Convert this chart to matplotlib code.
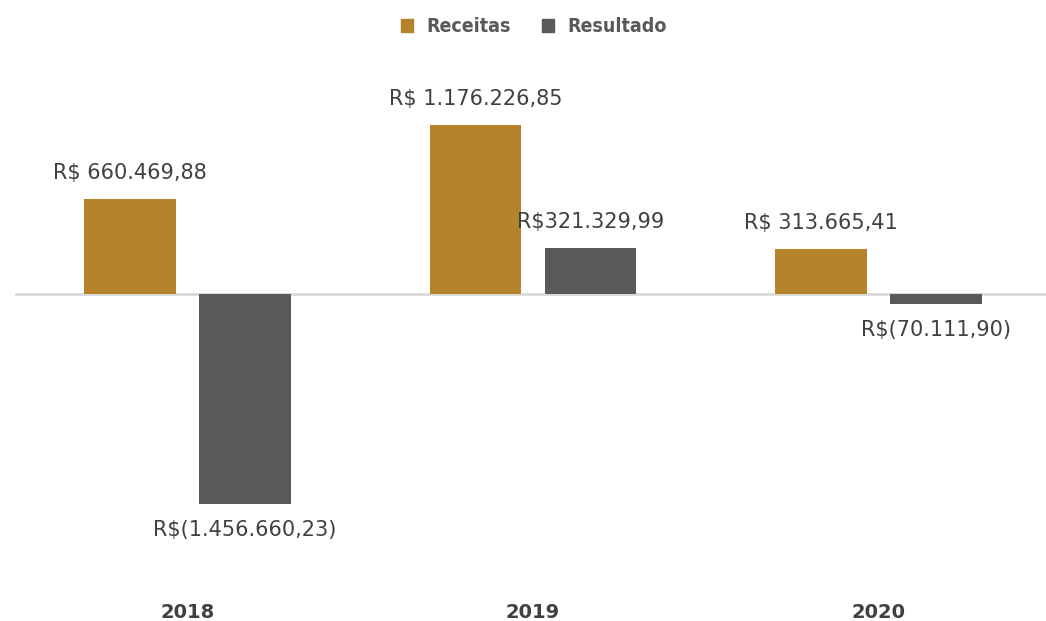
import matplotlib.pyplot as plt
import matplotlib.transforms as mtransforms
from matplotlib.patches import Patch

years = ["2018", "2019", "2020"]
receitas = [660469.88, 1176226.85, 313665.41]
resultado = [-1456660.23, 321329.99, -70111.90]

C_REC = "#B5832A"
C_RES = "#595959"
C_TXT = "#404040"


def brl(v):
    s = f"{abs(v):,.2f}".replace(",", "X").replace(".", ",").replace("X", ".")
    return f"({s})" if v < 0 else s


W, H = 1046, 621
fig = plt.figure(figsize=(W / 100, H / 100), dpi=100)

# eixo posicionado em pixels: zero em y=294, escala ~6952 por px
top_px, bot_px, zero_px, per_px = 60, 580, 294, 6952.0
ax = fig.add_axes([15 / W, 1 - bot_px / H, 1036 / W, (bot_px - top_px) / H])
ax.set_xlim(-0.5, 2.5)
ax.set_ylim(-(bot_px - zero_px) * per_px, (zero_px - top_px) * per_px)
ax.axis("off")

x = range(len(years))
off, bw = 0.1664, 0.266
ax.bar([i - off for i in x], receitas, width=bw, color=C_REC, zorder=2)
ax.bar([i + off for i in x], resultado, width=bw, color=C_RES, zorder=2)
ax.axhline(0, color="#D9D9D9", lw=2, zorder=1)

for i in x:
    for xo, v, fmt in ((-off, receitas[i], "R$ {}"), (off, resultado[i], "R${}")):
        dy = 26 if v >= 0 else -26
        ax.annotate(fmt.format(brl(v)), (i + xo, v), xytext=(0, dy * 0.72),
                    textcoords="offset points", ha="center", va="center",
                    fontsize=15, color=C_TXT)

tr = mtransforms.blended_transform_factory(ax.transData, fig.transFigure)
for i, y in zip(x, years):
    fig.text(0, 1 - 612 / H, y, transform=tr, ha="center", va="center",
             fontsize=14, fontweight="bold", color=C_TXT)
    fig.texts[-1].set_x(i)

handles = [Patch(color=C_REC, label="Receitas"), Patch(color=C_RES, label="Resultado")]
leg = fig.legend(handles=handles, loc="center", bbox_to_anchor=(534 / W, 1 - 27 / H),
                 ncol=2, frameon=False, handlelength=0.62, handleheight=0.62,
                 handletextpad=0.67, columnspacing=1.6,
                 prop={"size": 14, "weight": "bold", "stretch": "condensed"})
for t in leg.get_texts():
    t.set_color(C_RES)

fig.savefig("out.png", dpi=100)
